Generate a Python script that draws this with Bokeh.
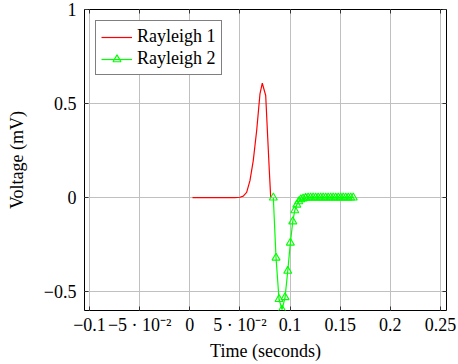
from bokeh.plotting import figure
from bokeh.models import FixedTicker, Range1d, Legend, LegendItem, LinearAxis
from bokeh.embed import file_html
from bokeh.resources import INLINE

# Rayleigh 1 (red line)
t_r1 = [0.0027, 0.02, 0.04, 0.045, 0.05, 0.0533, 0.0567, 0.06, 0.0633, 0.0667,
        0.07, 0.0723, 0.0757, 0.0777, 0.0793, 0.0807]
v_r1 = [0.0, 0.0, 0.0, 0.0, 0.002, 0.008, 0.028, 0.09, 0.197, 0.357,
        0.552, 0.608, 0.543, 0.32, 0.144, 0.0]

# Rayleigh 2 (green line with triangles)
t_r2 = [0.0833, 0.086, 0.089, 0.092, 0.095, 0.0977, 0.1003, 0.1027, 0.1047,
        0.1067, 0.1087, 0.1107, 0.113, 0.1155, 0.118, 0.1205, 0.123, 0.1255,
        0.128, 0.1305, 0.133, 0.1355, 0.138, 0.1405, 0.143, 0.1455, 0.148,
        0.1505, 0.153, 0.1555, 0.158, 0.1605, 0.163]
v_r2 = [0.0, -0.32, -0.54, -0.595, -0.53, -0.39, -0.24, -0.127, -0.068,
        -0.038, -0.02, -0.01, -0.005, -0.002, 0.0, 0.0, 0.0, 0.0,
        0.0, 0.0, 0.0, 0.0, 0.0, 0.0, 0.0, 0.0, 0.0,
        0.0, 0.0, 0.0, 0.0, 0.0, 0.0]

x_ticks = [-0.1, -0.05, 0, 0.05, 0.1, 0.15, 0.2, 0.25]
x_labels = ["\u22120.1", "\u22125 \u00b7 10\u207b\u00b2", "0", "5 \u00b7 10\u207b\u00b2",
            "0.1", "0.15", "0.2", "0.25"]
y_ticks = [-0.5, 0, 0.5, 1]
y_labels = ["\u22120.5", "0", "0.5", "1"]

FONT = "Liberation Serif"

p = figure(width=458, height=364, output_backend="svg", toolbar_location=None,
           x_range=Range1d(-0.105, 0.256), y_range=Range1d(-0.6, 1.0),
           min_border_left=84, min_border_right=12, min_border_top=9,
           min_border_bottom=54)
p.background_fill_color = "white"
p.border_fill_color = "white"
p.outline_line_color = "black"
p.outline_line_width = 1

l1 = p.line(t_r1, v_r1, line_color="#ff0000", line_width=1.2)
l2 = p.line(t_r2, v_r2, line_color="#00ff00", line_width=1.2)
m2 = p.scatter(t_r2, v_r2, marker="triangle", size=8, fill_color=None,
               line_color="#00ff00", line_width=1.1)

for ax in (p.xaxis, p.yaxis):
    ax.major_label_text_font = FONT
    ax.major_label_text_font_size = "18px"
    ax.major_label_text_color = "black"
    ax.axis_label_text_font = FONT
    ax.axis_label_text_font_size = "18px"
    ax.axis_label_text_color = "black"
    ax.axis_label_text_font_style = "normal"
    ax.major_tick_in = 4
    ax.major_tick_out = 0
    ax.minor_tick_line_color = None
    ax.axis_line_color = None
    ax.major_tick_line_color = "#333333"

p.xaxis.ticker = FixedTicker(ticks=x_ticks)
p.yaxis.ticker = FixedTicker(ticks=y_ticks)
p.xaxis.major_label_overrides = dict(zip(x_ticks, x_labels))
p.yaxis.major_label_overrides = dict(zip(y_ticks, y_labels))
p.xaxis.axis_label = "Time (seconds)"
p.yaxis.axis_label = "Voltage (mV)"
p.xaxis.major_label_standoff = 4
p.yaxis.major_label_standoff = 8
p.xaxis.axis_label_standoff = 3
p.yaxis.axis_label_standoff = 14

# mirrored inward ticks on top and right
top_ax = LinearAxis(ticker=FixedTicker(ticks=x_ticks), axis_line_color=None,
                    major_tick_in=4, major_tick_out=0, minor_tick_line_color=None,
                    major_tick_line_color="#333333", major_label_text_font_size="0px",
                    major_label_standoff=0,
                    major_label_overrides={t: "" for t in x_ticks})
right_ax = LinearAxis(ticker=FixedTicker(ticks=y_ticks), axis_line_color=None,
                      major_tick_in=4, major_tick_out=0, minor_tick_line_color=None,
                      major_tick_line_color="#333333", major_label_text_font_size="0px",
                      major_label_standoff=0,
                      major_label_overrides={t: "" for t in y_ticks})
p.add_layout(top_ax, "above")
p.add_layout(right_ax, "right")

p.xgrid.ticker = FixedTicker(ticks=x_ticks)
p.ygrid.ticker = FixedTicker(ticks=y_ticks)
p.grid.grid_line_color = "#c0c0c0"
p.grid.grid_line_width = 1

legend = Legend(items=[LegendItem(label="Rayleigh 1", renderers=[l1]),
                       LegendItem(label="Rayleigh 2", renderers=[l2, m2])],
                location="top_left", margin=11, padding=5, spacing=1,
                glyph_width=31, glyph_height=20, label_standoff=5,
                label_text_font=FONT, label_text_font_size="18px",
                label_text_color="black",
                border_line_color="black", border_line_width=1,
                background_fill_alpha=1.0)
p.add_layout(legend)

open("out.html", "w").write(file_html(p, INLINE))
